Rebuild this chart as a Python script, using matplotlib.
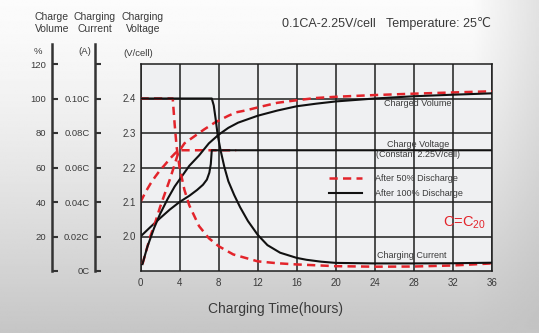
import numpy as np
import matplotlib
matplotlib.use('Agg')
import matplotlib.pyplot as plt

plt.rcParams['font.family'] = ['Liberation Sans', 'DejaVu Sans']

# ---------------------------------------------------------------------------
# data (hours on x)
# charging voltage, V/cell
volt_t_100 = [0, 1, 2, 3, 4, 5, 5.8, 6.4, 6.8, 7.05, 7.2, 7.3, 8, 12, 16, 20, 24, 28, 32, 36]
volt_v_100 = [2.0, 2.027, 2.053, 2.078, 2.1, 2.118, 2.135, 2.15, 2.165, 2.185, 2.21, 2.25,
              2.25, 2.25, 2.25, 2.25, 2.25, 2.25, 2.25, 2.25]
volt_t_50 = [0, 0.5, 1, 1.5, 2, 2.5, 3, 3.5, 3.9, 5, 6, 7, 8, 9, 9.8]
volt_v_50 = [2.1, 2.128, 2.152, 2.173, 2.192, 2.208, 2.225, 2.24, 2.25, 2.25, 2.25, 2.25,
             2.25, 2.25, 2.25]

# charged volume, %
vol_t_100 = [0.2, 0.7, 1.4, 2, 2.8, 3.5, 4, 5, 6, 7, 8, 9, 10, 12, 14, 16, 18, 20, 24, 28, 32, 36]
vol_p_100 = [4, 14, 25, 33, 42, 49, 53, 61, 67, 74, 79, 83, 86, 90, 93, 95.5, 97, 98.3, 100,
             101.3, 102.2, 103]
vol_t_50 = [0.2, 0.6, 1, 1.5, 2, 2.5, 3, 3.4, 3.9, 4.5, 5.5, 6.5, 7.6, 9, 9.8, 10.7, 12.5, 14,
            16, 18, 20, 24, 28, 32, 36]
vol_p_50 = [4, 12, 20, 28, 37, 45, 53, 60, 69, 74, 78, 82, 86, 90, 92, 93, 95.5, 97.5, 99,
            100.3, 101, 102, 102.8, 103.5, 104.2]

# charging current, C
cur_t_100 = [0, 7.3, 7.5, 7.7, 7.9, 8.2, 8.6, 9, 9.6, 10.2, 11, 12, 13, 14.3, 16, 17, 18.5,
             20, 24, 28, 32, 36]
cur_c_100 = [0.10, 0.10, 0.096, 0.088, 0.079, 0.07, 0.06, 0.052, 0.044, 0.037, 0.029, 0.021,
             0.015, 0.0106, 0.0076, 0.0065, 0.0054, 0.0047, 0.0044, 0.0044, 0.0045, 0.0048]
cur_t_50 = [0, 3.3, 3.5, 3.7, 4.0, 4.5, 5.0, 5.5, 6.0, 7.0, 8.0, 9.5, 12, 14, 16, 20, 24, 28,
            32, 36]
cur_c_50 = [0.10, 0.10, 0.085, 0.072, 0.06, 0.047, 0.038, 0.032, 0.026, 0.019, 0.0144, 0.0096,
            0.0056, 0.0045, 0.0038, 0.0028, 0.0025, 0.0026, 0.0032, 0.0044]

hour_ticks = [0, 4, 8, 12, 16, 20, 24, 28, 32, 36]
volt_ticks = [2.0, 2.1, 2.2, 2.3, 2.4]
vol_ticks = [0, 20, 40, 60, 80, 100, 120]
vol_labels = ['', '20', '40', '60', '80', '100', '120']
cur_ticks = [0, 0.02, 0.04, 0.06, 0.08, 0.10, 0.12]
cur_labels = ['0C', '0.02C', '0.04C', '0.06C', '0.08C', '0.10C', '']

# ---------------------------------------------------------------------------
W, H = 539, 333
fig = plt.figure(figsize=(W / 100, H / 100), dpi=100)

# grey gradient background
bg = fig.add_axes([0, 0, 1, 1], zorder=-10)
yy, xx = np.mgrid[0:1:200j, 0:1:300j]
shade = 0.985 - 0.21 * yy ** 1.4 - 0.10 * np.clip((xx - 0.88) / 0.12, 0, 1) * (1 - yy) ** 0.5
bg.imshow(shade, cmap='gray', vmin=0, vmax=1, aspect='auto', extent=[0, 1, 0, 1])
bg.set_axis_off()

TXT = '#3a3a3a'
RED = '#e3242b'
px = lambda x: x / W
py = lambda y: 1 - y / H

# main plot (voltage scale)
ax = fig.add_axes([px(140.5), py(271), px(492) - px(140.5), py(64) - py(271)])
ax.set_facecolor('#eff0f2')
ax.set_xlim(0, 36)
ax.set_ylim(1.9, 2.5)
ax.set_xticks(hour_ticks)
ax.set_yticks(volt_ticks)
ax.set_yticklabels(['%.1f' % v for v in volt_ticks])
ax.tick_params(length=0, labelsize=7, colors=TXT, pad=5)
ax.tick_params(axis='y', pad=3)
ax.grid(True, color='#1e1e1e', lw=1.1)
ax.set_axisbelow(True)
for s in ax.spines.values():
    s.set_color('#1e1e1e')
    s.set_linewidth(1.1)

# overlay axes for volume and current, same box
ax_vol = fig.add_axes(ax.get_position(), sharex=ax)
ax_vol.set_ylim(0, 120)
ax_vol.set_axis_off()
ax_cur = fig.add_axes(ax.get_position(), sharex=ax)
ax_cur.set_ylim(0, 0.12)
ax_cur.set_axis_off()

dash = dict(color=RED, lw=1.8, ls=(0, (3.3, 2.1)))
solid = dict(color='#111111', lw=1.5)

ax_cur.plot(cur_t_50, cur_c_50, **dash)
ax_cur.plot(cur_t_100, cur_c_100, **solid)
ax_vol.plot(vol_t_50, vol_p_50, **dash)
ax_vol.plot(vol_t_100, vol_p_100, **solid)
l50, = ax.plot(volt_t_50, volt_v_50, label='After 50% Discharge', **dash)
l100, = ax.plot(volt_t_100, volt_v_100, label='After 100% Discharge', **solid)

ax_cur.legend(handles=[l50, l100], loc='upper left', bbox_to_anchor=(0.535, 0.47),
              frameon=False, fontsize=6.5, handlelength=3.7, handletextpad=1.5,
              labelspacing=0.75, borderpad=0, borderaxespad=0, labelcolor=TXT)

# in-plot annotations
ax.text(28.4, 2.385, 'Charged Volume', fontsize=6.5, color=TXT, ha='center', va='center')
ax.text(28.4, 2.267, 'Charge Voltage', fontsize=6.5, color=TXT, ha='center', va='center')
ax.text(28.4, 2.237, '(Constant 2.25V/cell)', fontsize=6.5, color=TXT, ha='center', va='center')
ax.text(27.8, 1.945, 'Charging Current', fontsize=6.5, color=TXT, ha='center', va='center')
ax.text(33.2, 2.04, r'C=C$_{\mathregular{20}}$', fontsize=10.5, color=RED, ha='center',
        va='center')

# left scales
scale_top = 120 * (271 - 44) / (271 - 64)
for x0, lim, ticks, labels in [(52, 120, vol_ticks, vol_labels),
                               (95, 0.12, cur_ticks, cur_labels)]:
    sa = fig.add_axes([px(x0), py(271), 0.0005, py(44) - py(271)])
    sa.set_ylim(0, lim * scale_top / 120)
    sa.set_xticks([])
    sa.set_yticks(ticks)
    sa.set_yticklabels(labels)
    sa.patch.set_visible(False)
    for k in ['top', 'right', 'bottom']:
        sa.spines[k].set_visible(False)
    sa.spines['left'].set_linewidth(1.8)
    sa.spines['left'].set_color('#333333')
    sa.tick_params(axis='y', direction='in', length=4, width=1.5, color='#333333',
                   labelsize=6.8, labelcolor=TXT, pad=4)

# headers
for x0, txt in [(52, 'Charge\nVolume'), (95, 'Charging\nCurrent'), (143, 'Charging\nVoltage')]:
    fig.text(px(x0), py(23), txt, fontsize=7.5, color=TXT, ha='center', va='center',
             linespacing=1.15)
fig.text(px(38), py(51), '%', fontsize=6.8, color=TXT, ha='center', va='center')
fig.text(px(85), py(51), '(A)', fontsize=6.8, color=TXT, ha='center', va='center')
fig.text(px(138), py(53), '(V/cell)', fontsize=6.8, color=TXT, ha='center', va='center')

fig.text(px(282), py(23), '0.1CA-2.25V/cell   Temperature: 25℃', fontsize=9, color=TXT,
         ha='left', va='center')
fig.text(px(275), py(309), 'Charging Time(hours)', fontsize=10, color=TXT, ha='center',
         va='center')

fig.savefig('out.png', dpi=100)
